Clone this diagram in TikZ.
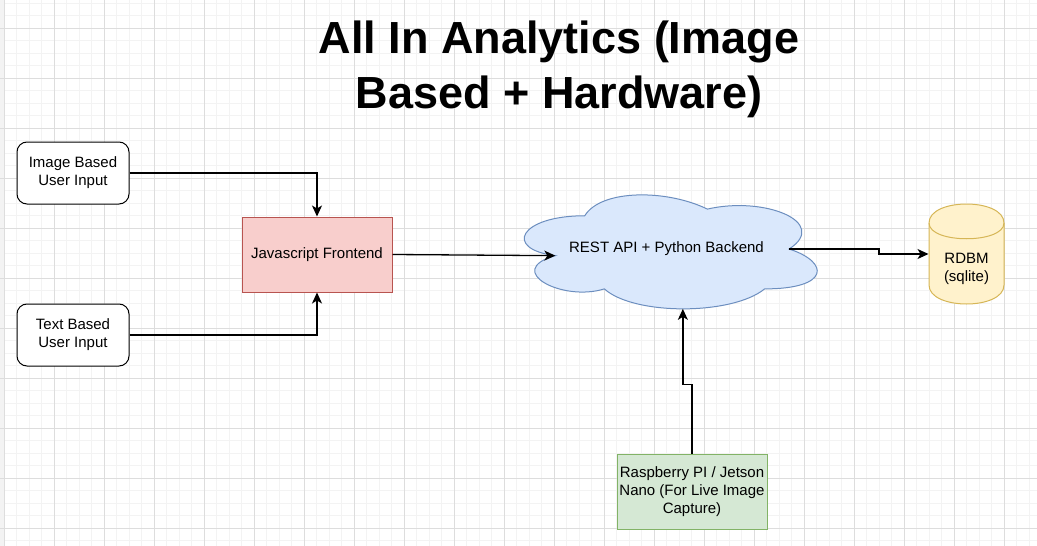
\documentclass[tikz,border=0pt]{standalone}
\usepackage{fontspec}
\setmainfont{Liberation Sans}
\usepackage{tikz}
\usetikzlibrary{arrows.meta}

\definecolor{jsFill}{HTML}{F8CECC}
\definecolor{jsLine}{HTML}{B85450}
\definecolor{apiFill}{HTML}{DAE8FC}
\definecolor{apiLine}{HTML}{6C8EBF}
\definecolor{piFill}{HTML}{D5E8D4}
\definecolor{piLine}{HTML}{82B366}
\definecolor{dbFill}{HTML}{FFF2CC}
\definecolor{dbLine}{HTML}{D6B656}
\definecolor{gridMinor}{HTML}{F3F3F3}
\definecolor{gridMajor}{HTML}{DDDDDD}

\begin{document}
\begin{tikzpicture}[x=1pt, y=-1pt]
               \tikzstyle{myBox}=[draw, align=center, inner sep=0pt, line width=1pt,
                  font=\fontsize{15}{18}\selectfont]
               \tikzstyle{inBox}=[myBox, rounded corners=10pt, fill=white, minimum width=112pt, minimum height=62pt]
               \tikzstyle{flow}=[draw, line width=1.3pt, -{Stealth[length=11pt, width=10pt, inset=3pt]}]

               \useasboundingbox (0,0) rectangle (1037,546);
               \fill[white] (0,0) rectangle (1037,546);
               \fill[gridMinor] (0,0) rectangle (4,546);
               \foreach \gx in {4,16.5,...,1037} \draw[gridMinor, line width=1pt] (\gx,0) -- (\gx,546);
               \foreach \gy in {3,15.5,...,546} \draw[gridMinor, line width=1pt] (0,\gy) -- (1037,\gy);
               \foreach \gx in {4,54,...,1037} \draw[gridMajor, line width=1pt] (\gx,0) -- (\gx,546);
               \foreach \gy in {28,78,...,546} \draw[gridMajor, line width=1pt] (0,\gy) -- (1037,\gy);

               \node[align=center, inner sep=0pt, font=\fontsize{45}{55}\selectfont\bfseries] (title) at (559,69)
                  {All In Analytics (Image\\Based + Hardware)};

               \begin{scope}[shift={(503,182.5)}, x=327pt, y=-133pt]
                  \filldraw[fill=apiFill, draw=apiLine, line width=1pt]
                     (0.25,0.25) .. controls (0.05,0.25) and (0,0.5) .. (0.16,0.55)
                     .. controls (0,0.66) and (0.18,0.9) .. (0.31,0.8)
                     .. controls (0.4,1) and (0.7,1) .. (0.8,0.8)
                     .. controls (1,0.8) and (1,0.6) .. (0.875,0.5)
                     .. controls (1,0.3) and (0.8,0.1) .. (0.625,0.2)
                     .. controls (0.5,0.05) and (0.3,0.05) .. (0.25,0.25) -- cycle;
                  \coordinate (apiW) at (0.16,0.55);
                  \coordinate (apiE) at (0.875,0.5);
                  \coordinate (apiS) at (0.55,0.95);
               \end{scope}
               \begin{scope}[shift={(929,204)}]
                  \filldraw[fill=dbFill, draw=dbLine, line width=1pt]
                     (0,19) .. controls (0,-6.33) and (75,-6.33) .. (75,19) -- (75,81)
                     .. controls (75,106.33) and (0,106.33) .. (0,81) -- cycle;
                  \draw[dbLine, line width=1pt] (0,19) .. controls (0,40) and (75,40) .. (75,19);
               \end{scope}

               \node[inBox] (img) at (73,173) {Image Based\\User Input};
               \node[inBox] (txt) at (73,335) {Text Based\\User Input};
               \node[myBox, fill=jsFill, draw=jsLine, minimum width=150pt, minimum height=75pt] (js) at (317,254.5) {Javascript Frontend};
               \node[myBox, draw=none, minimum width=327pt, minimum height=133pt] (api) at (666.5,249) {REST API + Python Backend};
               \node[myBox, draw=none, minimum width=75pt, minimum height=100pt] (db) at (966.5,254) {};
               \node[myBox, draw=none] (dbText) at (966.5,269) {RDBM\\(sqlite)};
               \node[myBox, fill=piFill, draw=piLine, minimum width=150pt, minimum height=75pt] (pi) at (692,491.5)
                  {Raspberry PI / Jetson\\Nano (For Live Image\\Capture)};

               \draw[flow] (img.east) -| (js.north);
               \draw[flow] (txt.east) -| (js.south);
               \draw[flow] (js.east) -- (apiW);
               \draw[flow] (apiE) -- ++(90,0) |- (db.west);
               \draw[flow] (pi.north) -- ++(0,-69) -| (apiS);
            \end{tikzpicture}
\end{document}
